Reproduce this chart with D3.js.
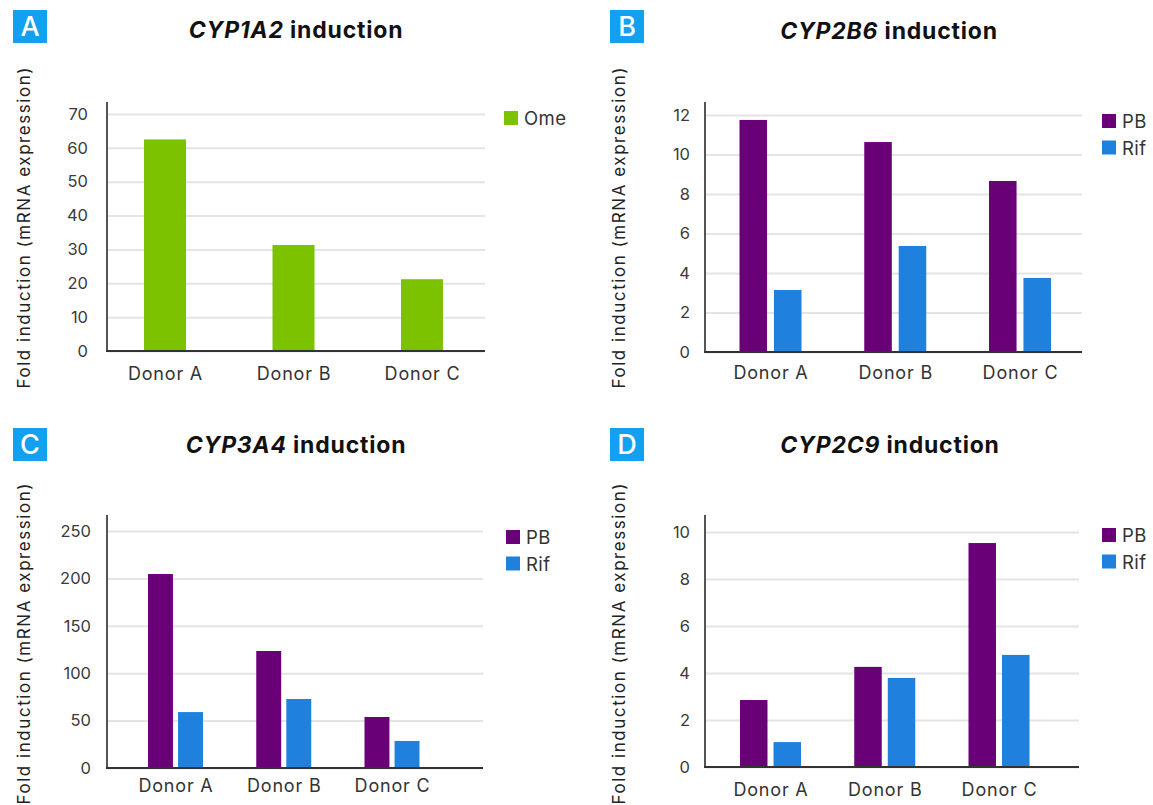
<!DOCTYPE html>
<html>
<head>
<meta charset="utf-8">
<script src="https://cdn.jsdelivr.net/npm/d3@7"></script>
<style>
  html, body { margin: 0; padding: 0; background: #fff; }
  svg { display: block; font-family: Inter, "Noto Sans", sans-serif; }
</style>
</head>
<body>
<div id="chart"></div>
<script>
const donors = ['Donor A', 'Donor B', 'Donor C'];

// fold induction values
const cyp1a2Ome = [62.5, 31.3, 21.2];
const cyp2b6PB = [11.75, 10.63, 8.66];
const cyp2b6Rif = [3.14, 5.37, 3.75];
const cyp3a4PB = [204.6, 123.4, 53.8];
const cyp3a4Rif = [59.0, 72.8, 28.5];
const cyp2c9PB = [2.85, 4.26, 9.53];
const cyp2c9Rif = [1.06, 3.79, 4.77];

const ticks1a2 = [0, 10, 20, 30, 40, 50, 60, 70];
const ticks2b6 = [0, 2, 4, 6, 8, 10, 12];
const ticks3a4 = [0, 50, 100, 150, 200, 250];
const ticks2c9 = [0, 2, 4, 6, 8, 10];

const color = {
    ome: '#7cc200',
    pb: '#6a0078',
    rif: '#1f80de',
    badge: '#12a0f0'
};

const yLabel = 'Fold induction (mRNA expression)';

const panels = [
    { letter: 'A', gene: 'CYP1A2', ticks: ticks1a2,
      series: [{ name: 'Ome', values: cyp1a2Ome, color: color.ome }] },
    { letter: 'B', gene: 'CYP2B6', ticks: ticks2b6,
      series: [{ name: 'PB', values: cyp2b6PB, color: color.pb },
               { name: 'Rif', values: cyp2b6Rif, color: color.rif }] },
    { letter: 'C', gene: 'CYP3A4', ticks: ticks3a4,
      series: [{ name: 'PB', values: cyp3a4PB, color: color.pb },
               { name: 'Rif', values: cyp3a4Rif, color: color.rif }] },
    { letter: 'D', gene: 'CYP2C9', ticks: ticks2c9,
      series: [{ name: 'PB', values: cyp2c9PB, color: color.pb },
               { name: 'Rif', values: cyp2c9Rif, color: color.rif }] }
];

// where each panel sits on the page
const layout = [
    { axisX: 107, gridEnd: 485, y0: 351, yTop: 114, axisTop: 102, centers: [165, 422],
      inner: [-21, 21], gap: 0, tickPad: 19, labelPad: 16, titleX: 296, titleY: 38,
      badgeX: 13, badgeY: 10, yLabX: 30, yLabY: 228, legX: 504, legY: 111 },
    { axisX: 705, gridEnd: 1082, y0: 352, yTop: 115, axisTop: 102, centers: [770.5, 1020],
      inner: [-31, 31], gap: 0.2, tickPad: 15, labelPad: 14, titleX: 889, titleY: 39,
      badgeX: 610, badgeY: 10, yLabX: 625, yLabY: 228, legX: 1102, legY: 114 },
    { axisX: 107, gridEnd: 483, y0: 768, yTop: 531, axisTop: 515, centers: [175.5, 392],
      inner: [-27.5, 27.5], gap: 0.17, tickPad: 16, labelPad: 11, titleX: 296, titleY: 453,
      badgeX: 13, badgeY: 428, yLabX: 30, yLabY: 644, legX: 506, legY: 530 },
    { axisX: 705, gridEnd: 1079, y0: 767, yTop: 532, axisTop: 515, centers: [770.5, 999],
      inner: [-30.5, 30.5], gap: 0.18, tickPad: 15, labelPad: 16, titleX: 890, titleY: 453,
      badgeX: 610, badgeY: 428, yLabX: 625, yLabY: 644, legX: 1102, legY: 528 }
];

const svg = d3.select('#chart').append('svg')
    .attr('width', 1153)
    .attr('height', 805);

function drawPanel(p, L) {
    const g = svg.append('g');

    const y = d3.scaleLinear()
        .domain([0, d3.max(p.ticks)])
        .range([L.y0, L.yTop]);
    const x = d3.scalePoint()
        .domain(donors)
        .range(L.centers);
    const inner = d3.scaleBand()
        .domain(p.series.map(s => s.name))
        .range(L.inner)
        .paddingInner(L.gap);

    // gridlines + tick labels
    g.append('g')
        .attr('transform', 'translate(' + L.axisX + ',0)')
        .call(d3.axisLeft(y)
            .tickValues(p.ticks)
            .tickSize(-(L.gridEnd - L.axisX))
            .tickPadding(L.tickPad)
            .tickFormat(d3.format('d')))
        .call(a => a.select('.domain').remove())
        .call(a => a.selectAll('.tick line')
            .attr('stroke', '#e4e4e4')
            .attr('stroke-width', 2))
        .call(a => a.selectAll('.tick text')
            .attr('fill', '#3a3a3a')
            .style('font-size', '16.5px')
            .style('font-family', 'Inter, sans-serif'));

    // bars
    p.series.forEach(s => {
        g.append('g').selectAll('rect')
            .data(s.values)
            .join('rect')
            .attr('x', (d, i) => x(donors[i]) + inner(s.name))
            .attr('y', d => y(d))
            .attr('width', inner.bandwidth())
            .attr('height', d => y(0) - y(d))
            .attr('fill', s.color);
    });

    // axis lines
    g.append('line')
        .attr('x1', L.axisX).attr('x2', L.axisX)
        .attr('y1', L.axisTop).attr('y2', L.y0)
        .attr('stroke', '#555')
        .attr('stroke-width', 2);
    g.append('line')
        .attr('x1', L.axisX - 1).attr('x2', L.gridEnd)
        .attr('y1', L.y0).attr('y2', L.y0)
        .attr('stroke', '#333')
        .attr('stroke-width', 2);

    // donor labels
    g.append('g')
        .attr('transform', 'translate(0,' + L.y0 + ')')
        .call(d3.axisBottom(x).tickSize(0).tickPadding(L.labelPad))
        .call(a => a.select('.domain').remove())
        .call(a => a.selectAll('.tick text')
            .attr('fill', '#333')
            .style('font-size', '18px')
            .style('letter-spacing', '0.8px')
            .style('font-family', 'Inter, sans-serif'));

    // y axis title
    g.append('text')
        .attr('transform', 'translate(' + L.yLabX + ',' + L.yLabY + ') rotate(-90)')
        .attr('text-anchor', 'middle')
        .attr('textLength', 321)
        .attr('lengthAdjust', 'spacing')
        .style('font-size', '17px')
        .attr('fill', '#222')
        .text(yLabel);

    // title
    const t = g.append('text')
        .attr('x', L.titleX)
        .attr('y', L.titleY)
        .attr('text-anchor', 'middle')
        .style('font-size', '23px')
        .style('font-weight', 700)
        .style('letter-spacing', '0.8px')
        .attr('fill', '#111');
    t.append('tspan').style('font-style', 'italic').text(p.gene);
    t.append('tspan').text(' induction');

    // panel badge
    g.append('rect')
        .attr('x', L.badgeX).attr('y', L.badgeY)
        .attr('width', 34).attr('height', 33)
        .attr('fill', color.badge);
    g.append('text')
        .attr('x', L.badgeX + 17)
        .attr('y', L.badgeY + 26)
        .attr('text-anchor', 'middle')
        .attr('fill', '#fff')
        .style('font-size', '27px')
        .style('font-weight', 500)
        .text(p.letter);

    // legend
    const leg = g.append('g').selectAll('g')
        .data(p.series)
        .join('g')
        .attr('transform', (d, i) => 'translate(' + L.legX + ',' + (L.legY + i * 26.5) + ')');
    leg.append('rect')
        .attr('width', 14).attr('height', 14)
        .attr('fill', d => d.color);
    leg.append('text')
        .attr('x', 20)
        .attr('y', 14)
        .attr('fill', '#333')
        .style('font-size', '18.5px')
        .style('letter-spacing', '0.4px')
        .text(d => d.name);
}

panels.forEach((p, i) => drawPanel(p, layout[i]));
</script>
</body>
</html>
